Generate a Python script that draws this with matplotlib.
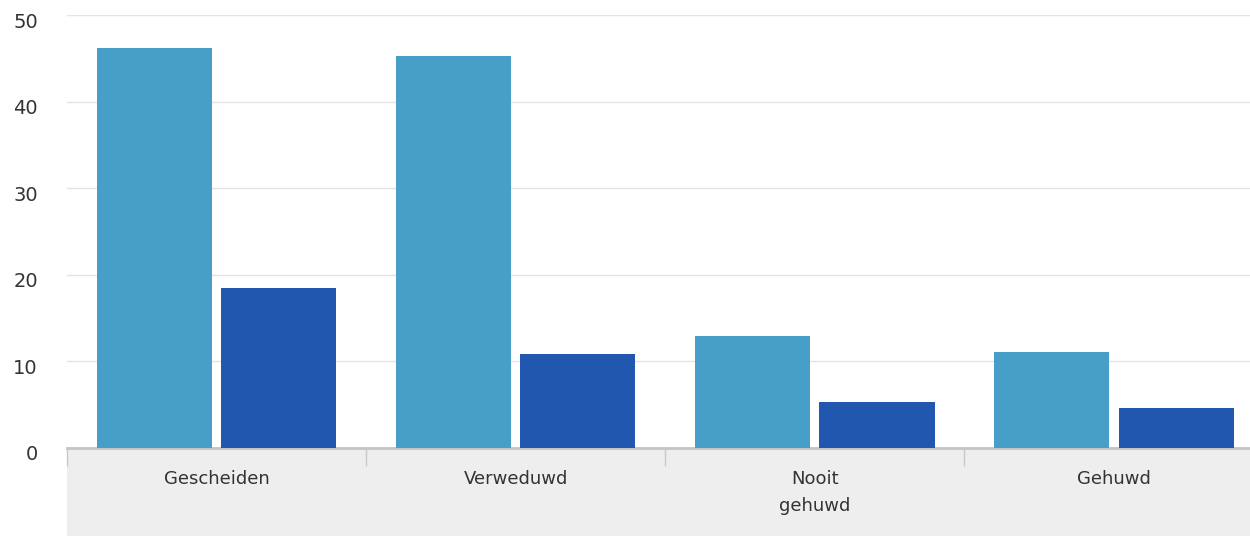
import numpy as np
import matplotlib
matplotlib.use("Agg")
import matplotlib.pyplot as plt
import matplotlib.transforms as mtransforms
from matplotlib.patches import Rectangle

plt.rcParams["font.family"] = ["DejaVu Sans"]

# data
categories = ["Gescheiden", "Verweduwd", "Nooit\ngehuwd", "Gehuwd"]
series_a = [46.2, 45.3, 12.9, 11.1]
series_b = [18.5, 10.8, 5.3, 4.6]
y_ticks = [0, 10, 20, 30, 40, 50]

light = "#479fc8"
dark = "#2257b0"
text_col = "#333333"

fig = plt.figure(figsize=(12.5, 5.36), dpi=100)
ax = fig.add_axes([67 / 1250, 88 / 536, 1 - 67 / 1250, (448 - 15) / 536])

# grey band under the plot area
fig.patches.append(Rectangle((67 / 1250, 0), 1, 88 / 536, transform=fig.transFigure,
                             facecolor="#eeeeee", edgecolor="none", zorder=-1))

x = np.arange(len(categories))
w = 0.385
off = 0.208
ax.bar(x - off, series_a, width=w, color=light, zorder=3)
ax.bar(x + off, series_b, width=w, color=dark, zorder=3)

ax.set_xlim(-0.5, 3.455)
ax.set_ylim(0, 50)

# y axis
ax.set_yticks(y_ticks)
ax.tick_params(axis="y", length=0, pad=21, labelsize=14, labelcolor=text_col)
shift = mtransforms.ScaledTranslation(0, -5 / 100, fig.dpi_scale_trans)
for lab in ax.get_yticklabels():
    lab.set_transform(lab.get_transform() + shift)
ax.yaxis.grid(True, color="#e4e4e4", linewidth=1, zorder=0)

# x axis: separators as major ticks, names as minor ticks
ax.set_xticks([-0.5, 0.5, 1.5, 2.5])
ax.set_xticklabels([])
ax.tick_params(axis="x", which="major", length=13, width=1, color="#c8c8c8", direction="out")
ax.set_xticks(x, minor=True)
ax.set_xticklabels(categories, minor=True)
ax.tick_params(axis="x", which="minor", length=0, pad=16, labelsize=13, labelcolor=text_col)
for lab in ax.get_xticklabels(minor=True):
    lab.set_linespacing(1.6)

for s in ["top", "right", "left"]:
    ax.spines[s].set_visible(False)
ax.spines["bottom"].set_color("#c4c4c4")
ax.spines["bottom"].set_linewidth(2)
ax.set_axisbelow(True)

fig.savefig("out.png", dpi=100)
